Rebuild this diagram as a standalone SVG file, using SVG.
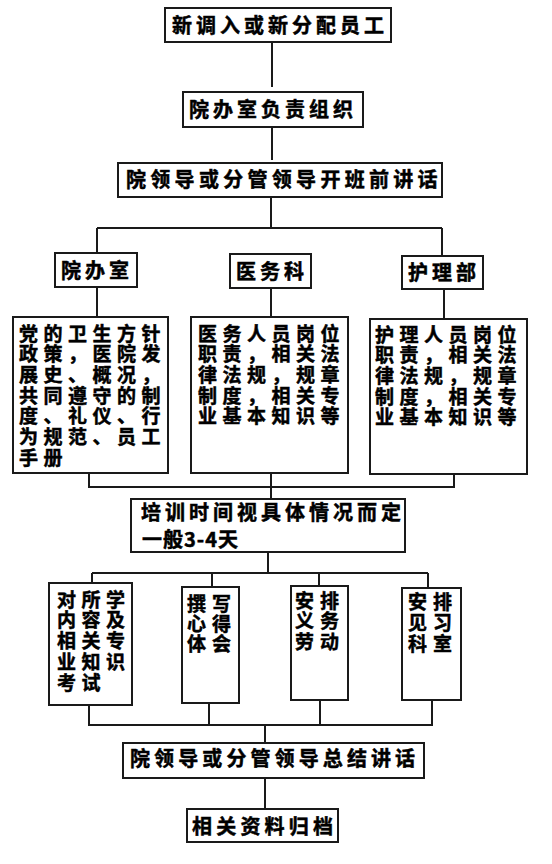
<svg xmlns="http://www.w3.org/2000/svg" width="552" height="864" viewBox="0 0 552 864">
<style>
.box{fill:#fff;stroke:#1a1a1a;stroke-width:2}
.ln{fill:none;stroke:#1a1a1a;stroke-width:2}
text{font-family:"Noto Sans CJK SC","Noto Sans CJK TC",sans-serif;font-weight:bold;font-size:20px;fill:#000;stroke:#000;stroke-width:0.5px;letter-spacing:4px}
.w{font-size:19px;letter-spacing:5.5px}
.c{font-size:19px;letter-spacing:6px}
</style>
<rect width="552" height="864" fill="#fff"/>
<g id="connectors">
<path class="ln" d="M272,42V87M272,127V160M271,197V228M97,228H442M97,228V253M442,228V256M97,287V317M271,288V317M444,289V319M89,473V487H454V474M271,473V499M268,552V573M92,573H428M92,573V583M212,573V587M319,573V586M428,573V588M89,705V725H432V700M209,703V725M320,700V725M265,725V743M265,778V809"/>
</g>
<g id="n1"><rect class="box" x="165" y="8" width="226" height="34"/><text x="172" y="33">新调入或新分配员工</text></g>
<g id="n2"><rect class="box" x="183" y="92" width="180" height="35"/><text x="189" y="117">院办室负责组织</text></g>
<g id="n3"><rect class="box" x="118" y="163" width="324" height="34"/><text x="126" y="187" style="letter-spacing:4.3px">院领导或分管领导开班前讲话</text></g>
<g id="n4"><rect class="box" x="55" y="253" width="82" height="34"/><text x="61" y="278">院办室</text></g>
<g id="n5"><rect class="box" x="230" y="254" width="81" height="34"/><text x="236" y="279">医务科</text></g>
<g id="n6"><rect class="box" x="402" y="256" width="81" height="33"/><text x="408" y="280">护理部</text></g>
<g id="n7"><rect class="box" x="13" y="317" width="155" height="156"/>
<text class="w" x="19" y="340.5"><tspan x="19">党的卫生方针</tspan><tspan x="19" dy="20.7">政策，医院发</tspan><tspan x="19" dy="20.7">展史、概况，</tspan><tspan x="19" dy="20.7">共同遵守的制</tspan><tspan x="19" dy="20.7">度、礼仪、行</tspan><tspan x="19" dy="20.7">为规范、员工</tspan><tspan x="19" dy="20.7">手册</tspan></text></g>
<g id="n8"><rect class="box" x="191" y="317" width="157" height="156"/>
<text class="w" x="198" y="340.5"><tspan x="198">医务人员岗位</tspan><tspan x="198" dy="20.7">职责，相关法</tspan><tspan x="198" dy="20.7">律法规，规章</tspan><tspan x="198" dy="20.7">制度，相关专</tspan><tspan x="198" dy="20.7">业基本知识等</tspan></text></g>
<g id="n9"><rect class="box" x="370" y="319" width="157" height="155"/>
<text class="w" x="375" y="341.5"><tspan x="375">护理人员岗位</tspan><tspan x="375" dy="20.7">职责，相关法</tspan><tspan x="375" dy="20.7">律法规，规章</tspan><tspan x="375" dy="20.7">制度，相关专</tspan><tspan x="375" dy="20.7">业基本知识等</tspan></text></g>
<g id="n10"><rect class="box" x="131" y="499" width="274" height="53"/>
<text x="141" y="520"><tspan x="141">培训时间视具体情况而定</tspan><tspan x="142" y="547" style="letter-spacing:1px">一般3-4天</tspan></text></g>
<g id="n11"><rect class="box" x="49" y="583" width="83" height="122"/>
<text class="w" x="57" y="606.5"><tspan x="57">对所学</tspan><tspan x="57" dy="20.8">内容及</tspan><tspan x="57" dy="20.8">相关专</tspan><tspan x="57" dy="20.8">业知识</tspan><tspan x="57" dy="20.8">考试</tspan></text></g>
<g id="n12"><rect class="box" x="182" y="587" width="57" height="116"/>
<text class="c" x="187" y="610.5"><tspan x="187">撰写</tspan><tspan x="187" dy="20">心得</tspan><tspan x="187" dy="20">体会</tspan></text></g>
<g id="n13"><rect class="box" x="291" y="586" width="57" height="114"/>
<text class="c" x="295" y="607.5"><tspan x="295">安排</tspan><tspan x="295" dy="20.5">义务</tspan><tspan x="295" dy="20.5">劳动</tspan></text></g>
<g id="n14"><rect class="box" x="402" y="588" width="59" height="112"/>
<text class="c" x="408" y="608.5"><tspan x="408">安排</tspan><tspan x="408" dy="21">见习</tspan><tspan x="408" dy="21">科室</tspan></text></g>
<g id="n15"><rect class="box" x="123" y="743" width="301" height="35"/><text x="130" y="766" style="letter-spacing:4.1px">院领导或分管领导总结讲话</text></g>
<g id="n16"><rect class="box" x="187" y="809" width="151" height="33"/><text x="192" y="834" style="letter-spacing:4.2px">相关资料归档</text></g>
</svg>
